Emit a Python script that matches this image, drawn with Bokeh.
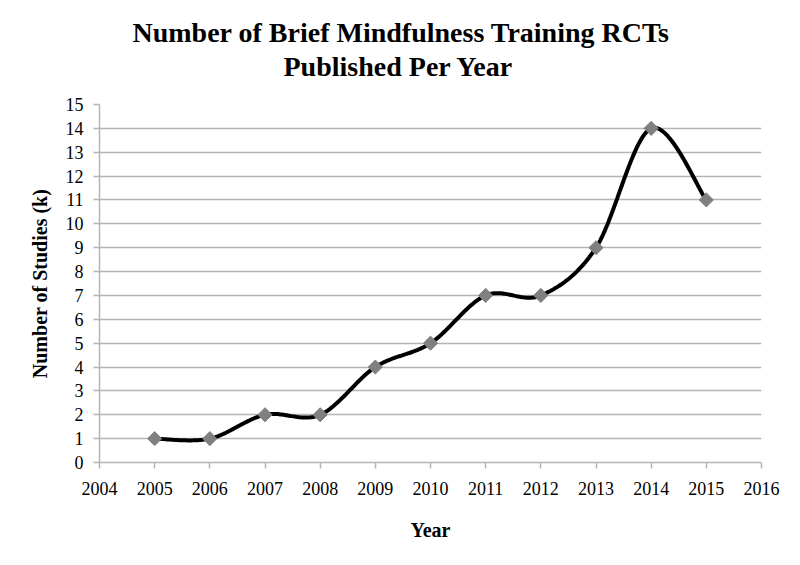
import numpy as np
from bokeh.plotting import figure
from bokeh.models import Range1d, FixedTicker, Title, ColumnDataSource
from bokeh.embed import file_html
from bokeh.resources import INLINE

years = [2005, 2006, 2007, 2008, 2009, 2010, 2011, 2012, 2013, 2014, 2015]
studies = [1, 1, 2, 2, 4, 5, 7, 7, 9, 14, 11]
x_ticks = list(range(2004, 2017))
y_ticks = list(range(0, 16))

title_line1 = "Number of Brief Mindfulness Training RCTs"
title_line2 = "Published Per Year"
x_label = "Year"
y_label = "Number of Studies (k)"


def smooth(xs, ys, n=40):
    """Catmull-Rom style cubic Bezier smoothing (like spreadsheet 'smoothed line')."""
    xs = np.asarray(xs, float)
    ys = np.asarray(ys, float)
    px = np.concatenate([[xs[0]], xs, [xs[-1]]])
    py = np.concatenate([[ys[0]], ys, [ys[-1]]])
    ox, oy = [], []
    t = np.linspace(0, 1, n)
    for i in range(1, len(px) - 2):
        p1x, p1y = px[i], py[i]
        p2x, p2y = px[i + 1], py[i + 1]
        c1x = p1x + (px[i + 1] - px[i - 1]) / 6.0
        c1y = p1y + (py[i + 1] - py[i - 1]) / 6.0
        c2x = p2x - (px[i + 2] - px[i]) / 6.0
        c2y = p2y - (py[i + 2] - py[i]) / 6.0
        bx = (1 - t) ** 3 * p1x + 3 * (1 - t) ** 2 * t * c1x + 3 * (1 - t) * t ** 2 * c2x + t ** 3 * p2x
        by = (1 - t) ** 3 * p1y + 3 * (1 - t) ** 2 * t * c1y + 3 * (1 - t) * t ** 2 * c2y + t ** 3 * p2y
        ox.extend(bx.tolist())
        oy.extend(by.tolist())
    return ox, oy


sx, sy = smooth(years, studies)

p = figure(width=784, height=549, output_backend="svg", toolbar_location=None,
           x_range=Range1d(2004, 2016), y_range=Range1d(0, 15),
           min_border_left=99, min_border_right=23, min_border_top=104, min_border_bottom=87)

p.title.visible = False
for txt, st, off in ((title_line2, 45, 184), (title_line1, -43, 33)):
    t = Title(text=txt, align="left", offset=off, text_font="Liberation Serif",
              text_font_size="28px", text_font_style="bold", text_color="black",
              standoff=st)
    p.add_layout(t, "above")

p.outline_line_color = None
p.background_fill_color = "white"
p.border_fill_color = "white"

p.xgrid.grid_line_color = None
p.ygrid.grid_line_color = "#b5b5b5"
p.ygrid.grid_line_width = 1.5
p.ygrid.ticker = FixedTicker(ticks=y_ticks)

p.xaxis.ticker = FixedTicker(ticks=x_ticks)
p.yaxis.ticker = FixedTicker(ticks=y_ticks)
for ax in (p.xaxis[0], p.yaxis[0]):
    ax.axis_line_color = "#b5b5b5"
    ax.axis_line_width = 1.5
    ax.major_tick_line_color = "#b5b5b5"
    ax.major_tick_line_width = 1.5
    ax.major_tick_in = 0
    ax.major_tick_out = 6
    ax.minor_tick_line_color = None
    ax.major_label_text_font = "Liberation Serif"
    ax.major_label_text_font_size = "18px"
    ax.major_label_text_font_style = "normal"
    ax.major_label_text_color = "black"
    ax.axis_label_text_font = "Liberation Serif"
    ax.axis_label_text_font_style = "bold"
    ax.axis_label_text_font_size = "20px"
    ax.axis_label_text_color = "black"

p.xaxis.axis_label = x_label
p.yaxis.axis_label = y_label
p.xaxis.major_label_standoff = 13
p.yaxis.major_label_standoff = 10
p.xaxis.axis_label_standoff = 21
p.yaxis.axis_label_standoff = 12

p.line(sx, sy, line_color="black", line_width=4)
src = ColumnDataSource(data=dict(x=years, y=studies))
p.scatter("x", "y", source=src, marker="square", size=10, angle=np.pi / 4,
          fill_color="#808080", line_color="#808080")

open("out.html", "w").write(file_html(p, INLINE))
